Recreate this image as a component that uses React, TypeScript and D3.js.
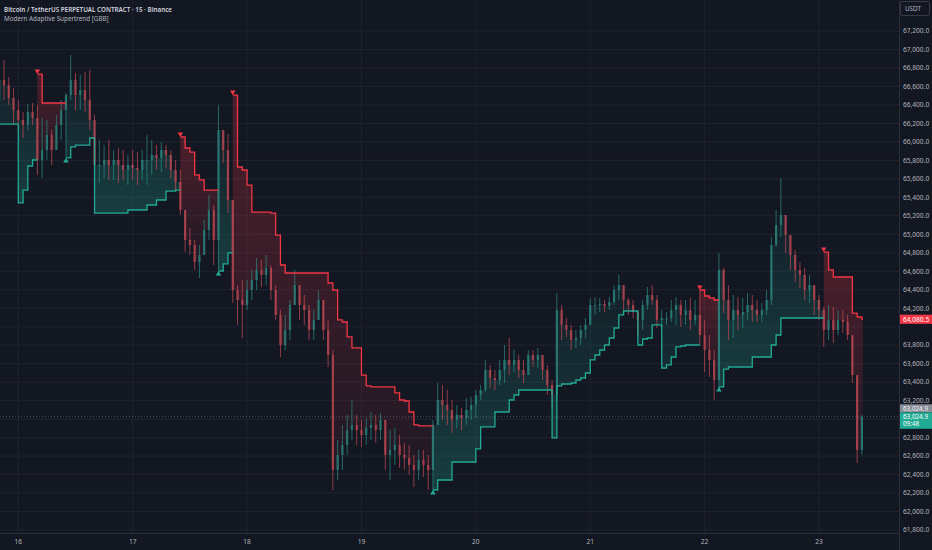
import React from "react";
import * as d3 from "d3";

const title = "Bitcoin / TetherUS PERPETUAL CONTRACT · 15 · Binance";
const indicatorName = "Modern Adaptive Supertrend [GBB]";
const quoteCurrency = "USDT";
const countdown = "09:48";

const firstCandleTime = Date.UTC(2024, 5, 15, 20);
const candleHours = 1;
const firstOpen = 66453;

const highs = [
  66864, 66886, 66702, 66583, 66453, 66323, 66410, 66421, 66399, 66258,
  66237, 66129, 66291, 66453, 66529, 66940, 66745, 66724, 66756, 66778,
  66291, 66020, 65966, 66020, 65912, 65934, 65912, 65858, 65912, 65890,
  65912, 66074, 66020, 65966, 65999, 65966, 65912, 65804, 65696, 65209,
  65068, 64938, 64884, 65155, 65425, 65317, 66399, 66020, 66085, 65371,
  64451, 64506, 64506, 64614, 64743, 64722, 64776, 64668, 64451, 64181,
  64127, 64289, 64614, 64451, 64343, 64235, 64181, 64397, 64289, 64073,
  63748, 62774, 62937, 63045, 63207, 63045, 62991, 63012, 63077, 63045,
  63066, 62991, 62882, 62904, 62828, 62742, 62720, 62612, 62666, 62666,
  62612, 62991, 63391, 63370, 63315, 63207, 63153, 63120, 63229, 63240,
  63315, 63370, 63640, 63586, 63532, 63640, 63802, 63878, 63748, 63694,
  63640, 63748, 63748, 63770, 63694, 63586, 63423, 64365, 64235, 64094,
  64019, 63964, 64019, 64094, 64311, 64321, 64311, 64289, 64321, 64451,
  64560, 64397, 64311, 64289, 64181, 64289, 64430, 64451, 64343, 64181,
  64159, 64289, 64321, 64289, 64289, 64311, 64289, 64397, 64073, 63910,
  63748, 64798, 64635, 64451, 64343, 64321, 64311, 64365, 64343, 64289,
  64257, 64397, 64971, 65263, 65609, 65209, 64992, 64830, 64700, 64635,
  64560, 64430, 64343, 64213, 64235, 64213, 64181, 64181, 64127, 63910,
  63477, 63045,
];

const lows = [
  66312, 66453, 66399, 66183, 66107, 66042, 66129, 66183, 65642, 65609,
  65804, 65750, 65912, 66020, 65826, 66453, 66345, 66345, 66323, 66129,
  65479, 65555, 65609, 65588, 65588, 65555, 65588, 65533, 65588, 65533,
  65588, 65533, 65642, 65696, 65674, 65717, 65609, 65479, 65209, 64808,
  64776, 64614, 64527, 64776, 64938, 64668, 64614, 65771, 65230, 64257,
  64019, 63878, 64181, 64289, 64397, 64430, 64451, 64289, 64073, 63672,
  63748, 63856, 64289, 64073, 64019, 63856, 63856, 64073, 63856, 63564,
  62233, 62341, 62450, 62612, 62774, 62720, 62698, 62720, 62774, 62742,
  62774, 62450, 62341, 62504, 62471, 62450, 62396, 62266, 62341, 62374,
  62233, 62233, 62937, 62991, 62937, 62850, 62904, 62882, 62937, 62991,
  63012, 63207, 63294, 63337, 63315, 63370, 63391, 63477, 63510, 63445,
  63391, 63532, 63564, 63553, 63423, 63261, 63120, 63207, 63856, 63889,
  63748, 63770, 63802, 63878, 64073, 64127, 64159, 64159, 64181, 64235,
  64289, 64159, 64127, 64094, 63910, 63964, 64181, 64235, 63986, 63986,
  64019, 64051, 64019, 63997, 64019, 63964, 64019, 63802, 63510, 63456,
  63207, 63315, 64148, 63856, 63878, 63964, 63986, 64073, 64051, 64051,
  64051, 64127, 64235, 64863, 64971, 64798, 64614, 64484, 64419, 64289,
  64257, 64127, 64073, 63781, 63856, 63824, 63910, 63932, 63856, 63391,
  62525, 62612,
];

const closes = [
  66670, 66615, 66475, 66345, 66237, 66183, 66323, 66258, 65804, 65912,
  66074, 65912, 66183, 66345, 66507, 66670, 66507, 66561, 66453, 66237,
  65750, 65750, 65804, 65750, 65804, 65750, 65696, 65750, 65717, 65696,
  65804, 65804, 65858, 65826, 65912, 65858, 65696, 65566, 65263, 64938,
  64884, 64700, 64776, 65047, 65263, 64938, 66129, 65912, 65371, 64397,
  64289, 64235, 64397, 64506, 64614, 64560, 64635, 64397, 64127, 63802,
  63964, 64235, 64451, 64235, 64181, 63964, 64073, 64289, 63964, 63694,
  62450, 62612, 62720, 62882, 62937, 62882, 62828, 62904, 62937, 62882,
  62991, 62612, 62666, 62720, 62612, 62579, 62504, 62450, 62558, 62504,
  62450, 62937, 63207, 63153, 63099, 62991, 63045, 63012, 63099, 63153,
  63261, 63315, 63532, 63445, 63423, 63532, 63640, 63586, 63640, 63532,
  63477, 63694, 63640, 63694, 63532, 63370, 63261, 64181, 64019, 63964,
  63856, 63878, 63964, 64019, 64235, 64235, 64246, 64224, 64267, 64397,
  64451, 64289, 64235, 64159, 64073, 64235, 64343, 64289, 64073, 64094,
  64094, 64181, 64235, 64127, 64181, 64073, 64127, 63910, 63748, 63640,
  63423, 64614, 64289, 64073, 64181, 64127, 64159, 64235, 64181, 64127,
  64181, 64289, 64884, 65101, 65209, 64992, 64776, 64614, 64560, 64397,
  64451, 64289, 64181, 63964, 64073, 63964, 64073, 64051, 63910, 63477,
  62666, 63024.9,
];

const supertrend = [
  66193, 66193, 66193, 66193, 65339, 65479, 65739, 65804, 66734, 66421,
  66421, 66421, 66421, 66421, 65826, 65945, 65966, 65966, 65966, 66042,
  65230, 65230, 65230, 65230, 65230, 65230, 65230, 65263, 65263, 65263,
  65263, 65317, 65317, 65371, 65371, 65468, 65468, 65479, 66053, 65934,
  65890, 65642, 65588, 65479, 65479, 65479, 64603, 64679, 64798, 66507,
  65728, 65696, 65533, 65241, 65241, 65241, 65241, 65230, 64992, 64668,
  64581, 64581, 64581, 64581, 64581, 64581, 64581, 64581, 64581, 64473,
  64397, 64073, 64051, 63889, 63770, 63770, 63477, 63359, 63348, 63348,
  63348, 63348, 63348, 63283, 63207, 63196, 63077, 62937, 62926, 62926,
  62926, 62233, 62341, 62341, 62341, 62536, 62536, 62536, 62536, 62536,
  62677, 62915, 62915, 62915, 63077, 63077, 63077, 63207, 63261, 63315,
  63315, 63315, 63315, 63315, 63315, 63315, 62796, 63359, 63380, 63380,
  63391, 63423, 63445, 63499, 63640, 63694, 63748, 63802, 63878, 63986,
  64127, 64170, 64170, 64170, 63802, 63867, 63878, 64019, 64019, 63553,
  63586, 63672, 63781, 63791, 63802, 63802, 63802, 64397, 64332, 64311,
  64289, 63348, 63542, 63564, 63564, 63564, 63564, 63564, 63672, 63672,
  63672, 63672, 63802, 63910, 64094, 64094, 64094, 64094, 64094, 64094,
  64094, 64094, 64094, 64808, 64614, 64538, 64538, 64538, 64538, 64148,
  64105, 64080.5,
];

// candle indices where the supertrend direction flips (starts up / green)
const flipIndex = [8, 14, 38, 46, 49, 91, 147, 151, 173];
const startDirection = 1;

const priceTicks = d3.range(61800, 67200 + 1, 200);
const dayTicks = d3.range(16, 24).map((d) => new Date(Date.UTC(2024, 5, d)));

const BG = "#131722";
const GRID = "#1f2330";
const TEXT = "#b2b5be";
const UP = "#2f968c";
const DOWN = "#d8505a";
const ST_UP = "#22ab94";
const ST_DOWN = "#f23645";
const FONT = "'Noto Sans', 'Open Sans', sans-serif";

type Candle = { t: Date; o: number; h: number; l: number; c: number; st: number };

export default function App() {
  const W = 932;
  const H = 550;
  const plotRight = 899;
  const plotBottom = 533;

  const x = d3
    .scaleUtc()
    .domain([new Date(Date.UTC(2024, 5, 16)), new Date(Date.UTC(2024, 5, 23))])
    .range([18.3, 819]);
  const y = d3.scaleLinear().domain([61800, 67200]).range([530, 31]);
  const fmt = d3.format(",.1f");

  const candles: Candle[] = closes.map((c, i) => ({
    t: new Date(firstCandleTime + i * candleHours * 3600e3),
    o: i === 0 ? firstOpen : closes[i - 1],
    h: highs[i],
    l: lows[i],
    c,
    st: supertrend[i],
  }));
  const n = candles.length;

  const bounds = [0, ...flipIndex, n];
  const segments = d3.range(bounds.length - 1).map((k) => {
    const start = bounds[k];
    const end = bounds[k + 1] - 1;
    const dir = k % 2 === 0 ? startDirection : -startDirection;
    const pts = candles.slice(start, end + 1).map((d) => ({ t: d.t, st: d.st, c: d.c }));
    const nextT = end + 1 < n ? candles[end + 1].t : new Date(+candles[end].t + 0.2 * 3600e3);
    pts.push({ t: nextT, st: candles[end].st, c: candles[end].c });
    return { start, dir, pts, first: k > 0 };
  });

  const line = d3
    .line<{ t: Date; st: number; c: number }>()
    .x((d) => x(d.t))
    .y((d) => y(d.st))
    .curve(d3.curveStepAfter);
  const area = d3
    .area<{ t: Date; st: number; c: number }>()
    .x((d) => x(d.t))
    .y0((d) => y(d.st))
    .y1((d) => y(d.c))
    .curve(d3.curveStepAfter);

  const lastPrice = closes[n - 1];
  const lastTrend = supertrend[n - 1];
  const bodyW = 2.2;

  // axis boxes (price-axis labels), used to hide tick labels underneath
  const boxes = [
    { y0: y(lastTrend) - 4.6, y1: y(lastTrend) + 4.6 },
    { y0: y(lastPrice) - 13, y1: y(lastPrice) + 12 },
  ];
  const visibleTicks = priceTicks.filter((v) => {
    const ty = y(v);
    return !boxes.some((b) => ty + 3 > b.y0 && ty - 3 < b.y1);
  });

  return (
    <svg
      width={W}
      height={H}
      style={{ position: "absolute", left: 0, top: 0, display: "block", background: BG }}
      fontFamily={FONT}
    >
      <defs>
        <linearGradient id="gDown" x1="0" y1="0" x2="0" y2="1">
          <stop offset="0%" stopColor={ST_DOWN} stopOpacity={0.26} />
          <stop offset="100%" stopColor={ST_DOWN} stopOpacity={0.06} />
        </linearGradient>
        <linearGradient id="gUp" x1="0" y1="0" x2="0" y2="1">
          <stop offset="0%" stopColor={ST_UP} stopOpacity={0.06} />
          <stop offset="100%" stopColor={ST_UP} stopOpacity={0.26} />
        </linearGradient>
        <clipPath id="plot">
          <rect x={0} y={0} width={plotRight} height={plotBottom} />
        </clipPath>
      </defs>
      <rect x={0} y={0} width={W} height={H} fill={BG} />

      {/* grid */}
      {priceTicks.map((v) => (
        <line key={"h" + v} x1={0} x2={plotRight} y1={y(v)} y2={y(v)} stroke={GRID} strokeWidth={1} />
      ))}
      {dayTicks.map((d) => (
        <line key={"v" + +d} x1={x(d)} x2={x(d)} y1={0} y2={plotBottom} stroke={GRID} strokeWidth={1} />
      ))}

      <g clipPath="url(#plot)">
        {/* fills */}
        {segments.map((s, k) => (
          <path key={"f" + k} d={area(s.pts) || ""} fill={s.dir > 0 ? "url(#gUp)" : "url(#gDown)"} />
        ))}

        {/* candles */}
        {candles.map((d, i) => {
          const up = d.c >= d.o;
          const col = up ? UP : DOWN;
          const cx = x(d.t);
          const top = y(Math.max(d.o, d.c));
          const bot = y(Math.min(d.o, d.c));
          return (
            <g key={"c" + i} opacity={0.72}>
              <line x1={cx} x2={cx} y1={y(d.h)} y2={y(d.l)} stroke={col} strokeWidth={0.9} />
              <rect x={cx - bodyW / 2} y={top} width={bodyW} height={Math.max(0.8, bot - top)} fill={col} />
            </g>
          );
        })}

        {/* dotted last price line */}
        <line
          x1={0}
          x2={plotRight}
          y1={y(lastPrice)}
          y2={y(lastPrice)}
          stroke="#9598a1"
          strokeWidth={0.8}
          strokeDasharray="1 2"
          opacity={0.6}
        />

        {/* supertrend lines */}
        {segments.map((s, k) => (
          <path
            key={"l" + k}
            d={line(s.pts) || ""}
            fill="none"
            stroke={s.dir > 0 ? ST_UP : ST_DOWN}
            strokeWidth={1.3}
          />
        ))}

        {/* flip markers */}
        {segments
          .filter((s) => s.first)
          .map((s, k) => {
            const px = x(s.pts[0].t);
            const py = y(s.pts[0].st);
            const pts =
              s.dir > 0
                ? `${px - 2.8},${py + 4.5} ${px + 2.8},${py + 4.5} ${px},${py}`
                : `${px - 2.8},${py - 4.5} ${px + 2.8},${py - 4.5} ${px},${py}`;
            return <polygon key={"m" + k} points={pts} fill={s.dir > 0 ? ST_UP : ST_DOWN} />;
          })}
      </g>

      {/* axes borders */}
      <line x1={plotRight + 0.5} x2={plotRight + 0.5} y1={0} y2={H} stroke="#2a2e39" />
      <line x1={0} x2={plotRight} y1={plotBottom + 0.5} y2={plotBottom + 0.5} stroke="#2a2e39" />

      {/* price axis labels */}
      {visibleTicks.map((v) => (
        <text key={"t" + v} x={903} y={y(v) + 2.3} fontSize={6.6} fill={TEXT}>
          {fmt(v)}
        </text>
      ))}

      {/* day labels */}
      {dayTicks.map((d) => (
        <text key={"d" + +d} x={x(d)} y={544} fontSize={6.6} fill={TEXT} textAnchor="middle">
          {d3.utcFormat("%-d")(d)}
        </text>
      ))}

      {/* supertrend value label */}
      <rect x={plotRight + 1} y={y(lastTrend) - 4.6} width={W - plotRight - 1} height={9.2} fill={ST_DOWN} />
      <text x={903} y={y(lastTrend) + 2.3} fontSize={6.6} fill="#ffffff">
        {fmt(lastTrend)}
      </text>

      {/* last price labels */}
      <rect x={plotRight + 1} y={y(lastPrice) - 12.5} width={W - plotRight - 1} height={8} fill="#8a8d96" />
      <text x={903} y={y(lastPrice) - 6.3} fontSize={6.3} fill="#f0f3fa">
        {fmt(lastPrice)}
      </text>
      <rect x={plotRight + 1} y={y(lastPrice) - 4.5} width={W - plotRight - 1} height={16.5} fill={ST_UP} />
      <text x={903} y={y(lastPrice) + 1.9} fontSize={6.3} fill="#ffffff">
        {fmt(lastPrice)}
      </text>
      <text x={903} y={y(lastPrice) + 9.4} fontSize={6.3} fill="#ffffff">
        {countdown}
      </text>

      {/* currency box */}
      <rect x={900.5} y={1.5} width={29} height={14} rx={2} fill={BG} stroke="#434651" strokeWidth={0.8} />
      <text x={905} y={11} fontSize={6.3} fill={TEXT}>
        {quoteCurrency}
      </text>

      {/* titles */}
      <text x={4} y={11.5} fontSize={6.3} fontWeight={600} fill="#d1d4dc">
        {title}
      </text>
      <text x={4} y={20.5} fontSize={6.3} fill="#b2b5be">
        {indicatorName}
      </text>
    </svg>
  );
}
